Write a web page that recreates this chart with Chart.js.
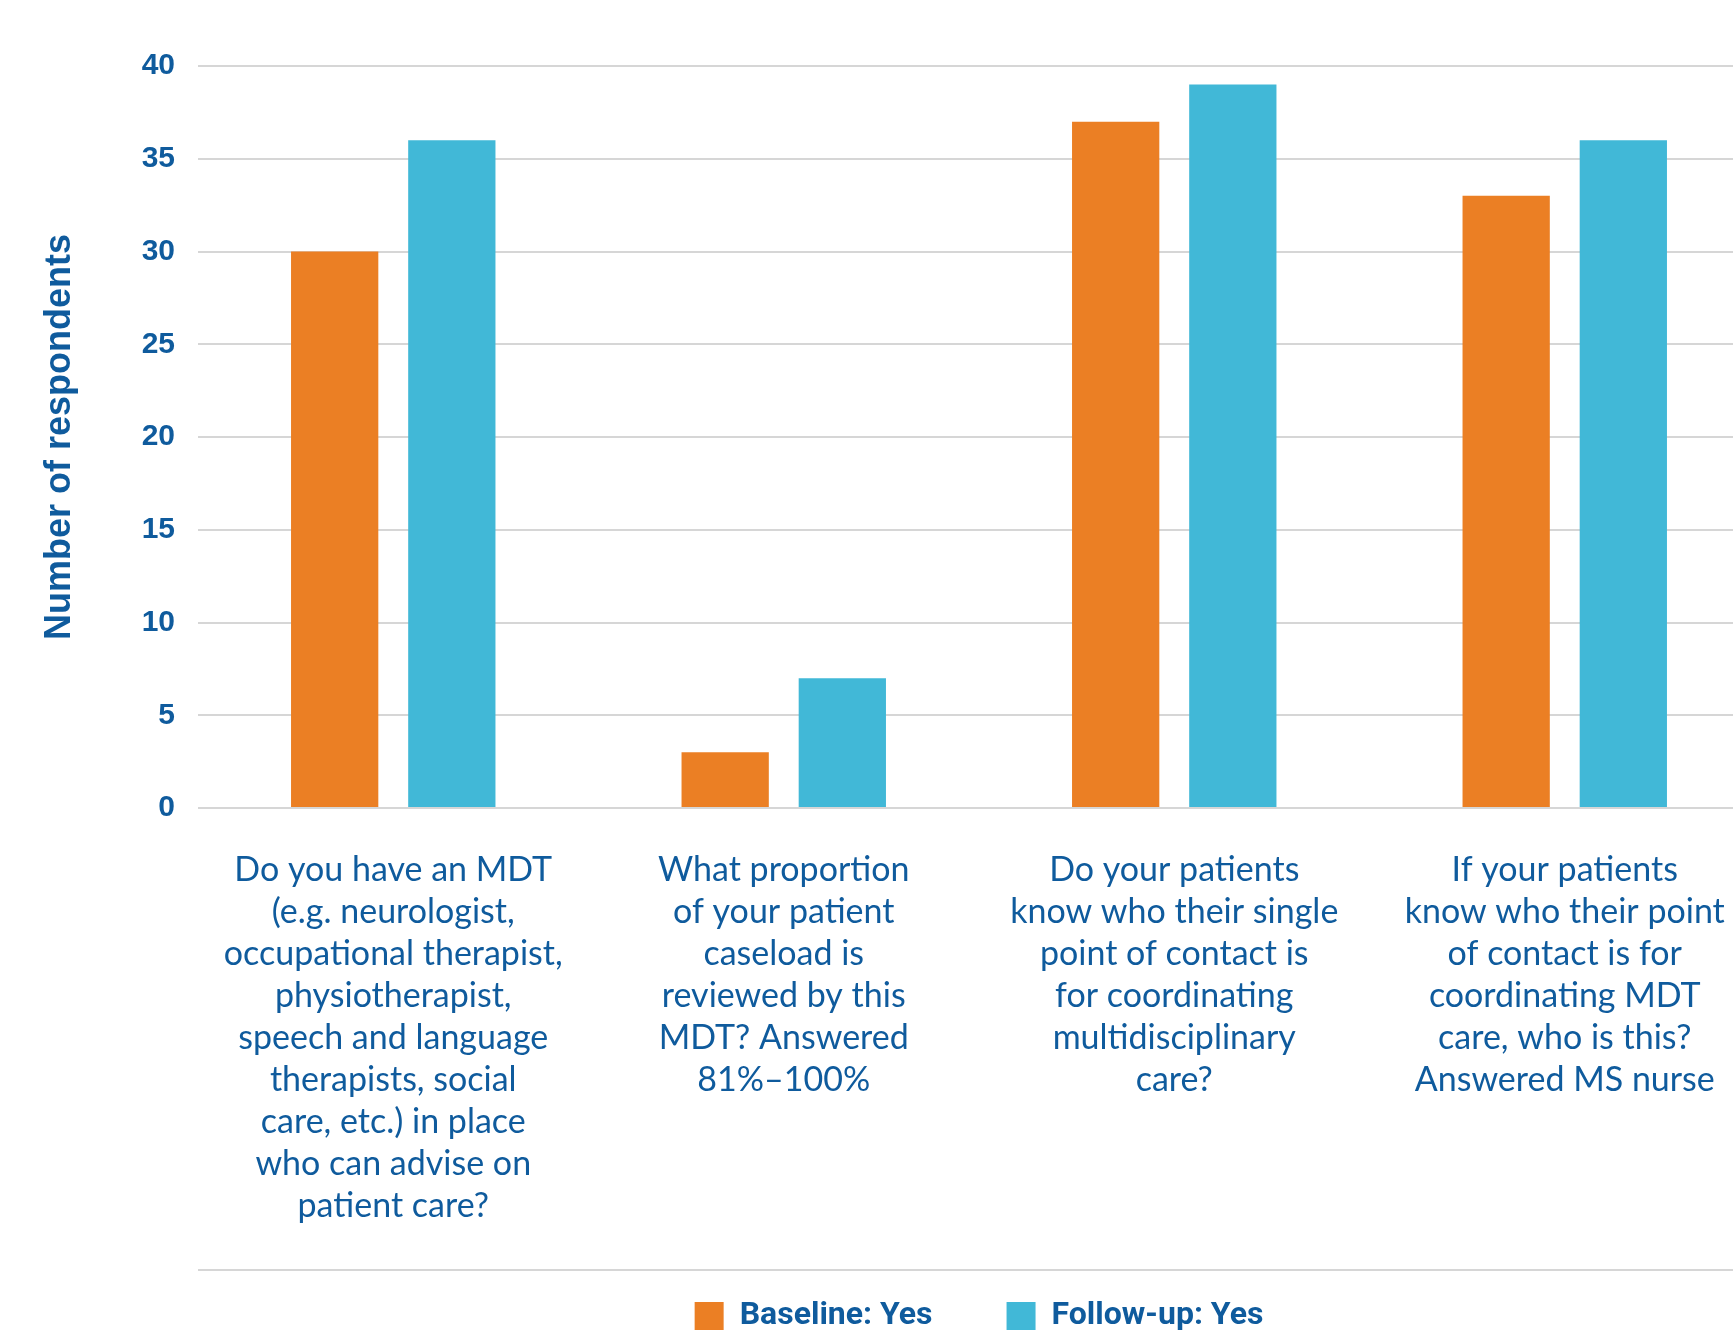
<!DOCTYPE html>
<html>
<head>
<meta charset="utf-8">
<title>MDT survey responses</title>
<script src="https://cdn.jsdelivr.net/npm/chart.js@4.4.1/dist/chart.umd.min.js"></script>
<style>
  html, body { margin: 0; padding: 0; background: #fff; overflow: hidden; }
  #wrap { width: 1760px; height: 1342px; }
</style>
</head>
<body>
<div id="wrap"><canvas id="mdtChart" width="1760" height="1342"></canvas></div>
<script>
// Survey questions (one array of lines per category)
const questions = [
    ['Do you have an MDT', '(e.g. neurologist,', 'occupational therapist,', 'physiotherapist,',
     'speech and language', 'therapists, social', 'care, etc.) in place', 'who can advise on', 'patient care?'],
    ['What proportion', 'of your patient', 'caseload is', 'reviewed by this', 'MDT? Answered', '81%–100%'],
    ['Do your patients', 'know who their single', 'point of contact is', 'for coordinating',
     'multidisciplinary', 'care?'],
    ['If your patients', 'know who their point', 'of contact is for', 'coordinating MDT',
     'care, who is this?', 'Answered MS nurse']
];
const baselineYes = [30, 3, 37, 33];
const followUpYes = [36, 7, 39, 36];
const yTicks = [0, 5, 10, 15, 20, 25, 30, 35, 40];

const colors = {
    orange: '#EB7F24',
    blue: '#41B8D7',
    text: '#0F5B9D',
    grid: '#D6D6D6'
};

const labelFont = "'Lato', 'Open Sans', sans-serif";
const boldFont = "'Liberation Sans', 'Arial', sans-serif";
const legendFont = "'Roboto', 'Liberation Sans', sans-serif";
const legendGap = 74;

// thin rule between the question labels and the legend
const separatorPlugin = {
    id: 'separator',
    afterDraw(chart) {
        const ctx = chart.ctx;
        const y = chart.legend.top + legendGap - 30;
        ctx.save();
        ctx.strokeStyle = colors.grid;
        ctx.lineWidth = 2;
        ctx.beginPath();
        ctx.moveTo(chart.chartArea.left, y);
        ctx.lineTo(chart.width, y);
        ctx.stroke();
        ctx.restore();
    }
};

new Chart(document.getElementById('mdtChart'), {
    type: 'bar',
    data: {
        labels: questions,
        datasets: [
            { label: 'Baseline: Yes', data: baselineYes, backgroundColor: colors.orange },
            { label: 'Follow-up: Yes', data: followUpYes, backgroundColor: colors.blue }
        ]
    },
    options: {
        responsive: false,
        animation: false,
        devicePixelRatio: 1,
        categoryPercentage: 0.6,
        barPercentage: 0.745,
        layout: { padding: { top: 66, left: 20, right: 0, bottom: 0 } },
        scales: {
            x: {
                grid: { display: false, drawTicks: false },
                border: { display: false },
                ticks: {
                    color: colors.text,
                    padding: 41,
                    maxRotation: 0,
                    autoSkip: false,
                    font: { family: labelFont, size: 34, lineHeight: 42 / 34 }
                },
                // label block plus the blank strip above the legend;
                // labels fit inside their categories, so no side padding
                afterFit(scale) {
                    scale.height = 492 - legendGap;
                    scale.paddingLeft = 0;
                    scale.paddingRight = 0;
                }
            },
            y: {
                min: 0,
                max: 40,
                afterBuildTicks(scale) { scale.ticks = yTicks.map(v => ({ value: v })); },
                grid: { color: colors.grid, lineWidth: 2, drawTicks: false },
                border: { display: false },
                ticks: {
                    color: colors.text,
                    padding: 23,
                    font: { family: boldFont, size: 30, weight: 'bold' }
                },
                title: {
                    display: true,
                    text: 'Number of respondents',
                    color: colors.text,
                    padding: { top: 18, bottom: 0 },
                    font: { family: boldFont, size: 36, weight: 'bold', lineHeight: 1.2 }
                },
                afterFit(scale) { scale.width = 178; }
            }
        },
        plugins: {
            legend: {
                position: 'bottom',
                fullSize: false,
                labels: {
                    color: colors.text,
                    boxWidth: 29,
                    boxHeight: 28,
                    padding: legendGap,
                    font: { family: legendFont, size: 32, weight: 'bold' }
                }
            },
            tooltip: { enabled: false }
        }
    },
    plugins: [separatorPlugin]
});
</script>
</body>
</html>
